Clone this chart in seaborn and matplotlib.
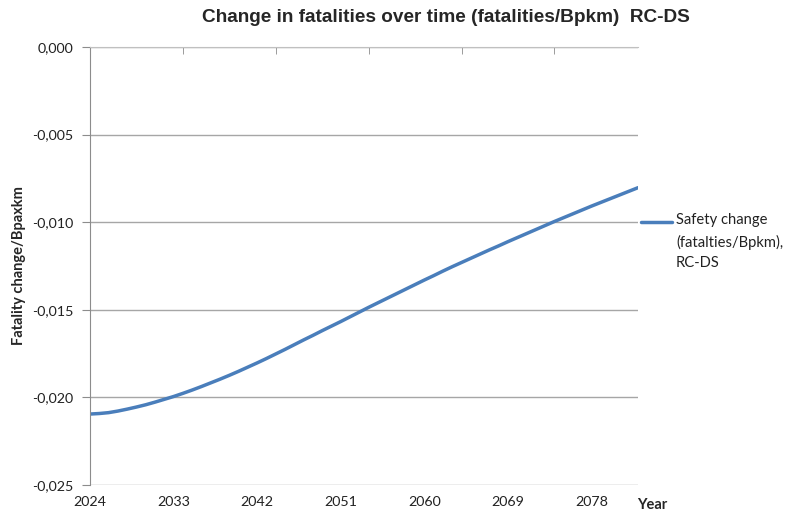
import matplotlib
matplotlib.use("Agg")
import matplotlib.pyplot as plt
from matplotlib.lines import Line2D
from matplotlib.ticker import FuncFormatter
import numpy as np
import pandas as pd
import seaborn as sns

# Annual series, 2024-2083 (fatalities per billion passenger-km, x 1e-3)
years = list(range(2024, 2084))
safety_change_milli = [
    -20.95, -20.92, -20.87, -20.78, -20.67, -20.55, -20.42, -20.27, -20.11, -19.95,
    -19.77, -19.58, -19.38, -19.17, -18.96, -18.74, -18.51, -18.27, -18.03, -17.78,
    -17.52, -17.26, -16.99, -16.72, -16.46, -16.19, -15.93, -15.67, -15.40, -15.13,
    -14.86, -14.60, -14.34, -14.08, -13.82, -13.56, -13.30, -13.05, -12.79, -12.54,
    -12.30, -12.06, -11.82, -11.58, -11.35, -11.11, -10.88, -10.65, -10.42, -10.19,
    -9.96, -9.74, -9.52, -9.30, -9.08, -8.87, -8.66, -8.45, -8.24, -8.03,
]
label_years = list(range(2024, 2084, 9))
y_ticks = [0.0, -0.005, -0.010, -0.015, -0.020, -0.025]

series_name = "Safety change\n(fatalties/Bpkm),\nRC-DS"
title_text = "Change in fatalities over time (fatalities/Bpkm)  RC-DS"

df = pd.DataFrame({"Year": years,
                   "Change": np.array(safety_change_milli) / 1000.0})

sns.set_style("white")
plt.rcParams["font.family"] = ["Lato", "DejaVu Sans"]

LINE_BLUE = "#4A7EBB"
GRID = "#a6a6a6"
AXIS = "#8c8c8c"

fig = plt.figure(figsize=(7.87, 5.16), dpi=100)
ax = fig.add_axes([90 / 787, 31 / 516, 548 / 787, 438 / 516])

sns.lineplot(data=df, x="Year", y="Change", ax=ax, color=LINE_BLUE,
             linewidth=2.5, legend=False)

ax.set_xlim(years[0], years[-1])
ax.set_ylim(-0.025, 0.0)

# horizontal gridlines
ax.set_yticks(y_ticks)
ax.yaxis.set_major_formatter(FuncFormatter(lambda v, p: f"{v:.3f}".replace(".", ",")))
ax.grid(axis="y", color=GRID, linewidth=1.0)
ax.grid(axis="x", visible=False)

# category labels every 9 years along the bottom, tick marks every 10 along the top
ax.set_xticks(label_years)
ax.set_xticks(list(range(2024, 2084, 10)), minor=True)
ax.tick_params(axis="x", which="major", length=0, pad=8, labelsize=10.3,
               labelcolor="#222222")
ax.tick_params(axis="x", which="minor", top=True, bottom=False, direction="in",
               length=5, color=AXIS)
ax.tick_params(axis="y", which="major", left=True, length=6, color=AXIS,
               labelsize=10.3, labelcolor="#222222", pad=6)

for side in ["right", "bottom"]:
    ax.spines[side].set_visible(False)
ax.spines["left"].set_color(AXIS)
ax.spines["top"].set_color("#c0c0c0")

ax.set_xlabel("")
ax.set_ylabel("Fatality change/Bpaxkm", fontsize=10.5, fontweight="bold",
              labelpad=4)

fig.text(446 / 787, 1 - 18 / 516, title_text, ha="center", va="center",
         fontsize=13.7, fontweight="bold",
         family=["Liberation Sans", "DejaVu Sans"])
fig.text(637 / 787, 1 - 505 / 516, "Year", ha="left", va="center",
         fontsize=10.5, fontweight="bold")

# legend entry
key_y = 1 - 222 / 516
fig.add_artist(Line2D([641 / 787, 672 / 787], [key_y, key_y],
                      color=LINE_BLUE, linewidth=2.5, transform=fig.transFigure))
fig.text(676 / 787, 1 - 213 / 516, series_name, ha="left", va="top",
         fontsize=10.6, linespacing=1.62, color="#222222")

fig.savefig("out.png", dpi=100)
